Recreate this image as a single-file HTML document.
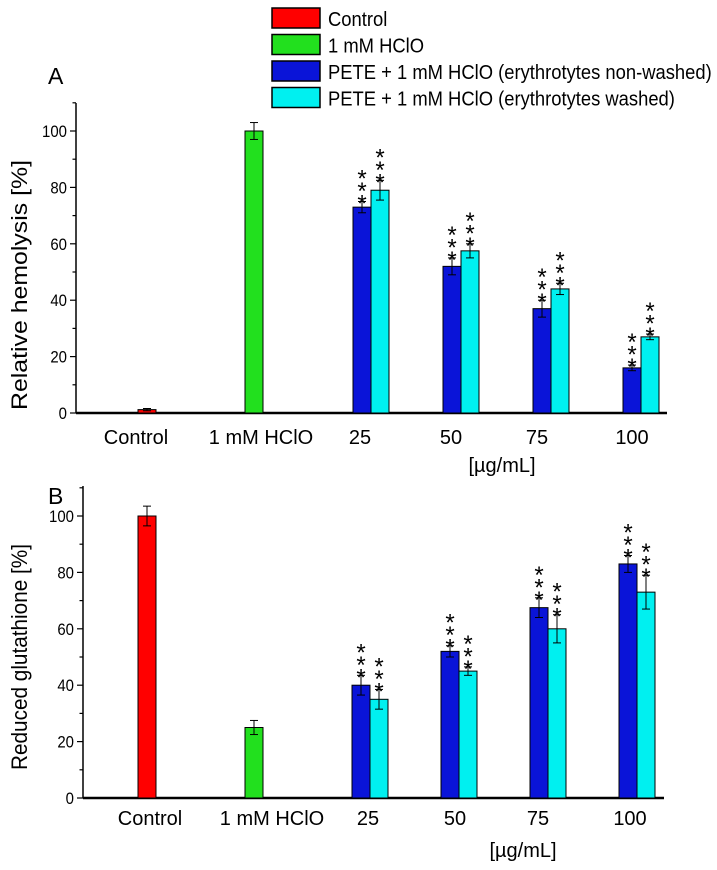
<!DOCTYPE html>
<html><head><meta charset="utf-8"><style>
body{margin:0;background:#fff}
svg{display:block;font-family:"Liberation Sans",sans-serif}
</style></head><body>
<svg id="c" width="717" height="870" viewBox="0 0 717 870"></svg>
<script>
const categories=["Control","1 mM HClO","25","50","75","100"];
const yTicks=[0,20,40,60,80,100];
const aControl=[1.2],aControlErr=[0.4];
const aHclo=[100],aHcloErr=[3];
const aNonWashed=[73,52,37,16],aNonWashedErr=[2,3,3,1];
const aWashed=[79,57.5,44,27],aWashedErr=[3.5,2.5,2,1];
const bControl=[100],bControlErr=[3.5];
const bHclo=[25],bHcloErr=[2.5];
const bNonWashed=[40,52,67.5,83],bNonWashedErr=[3.5,2,3.5,3];
const bWashed=[35,45,60,73],bWashedErr=[3.5,1.5,5,6];
const legendLabels=["Control","1 mM HClO","PETE + 1 mM HClO (erythrotytes non-washed)","PETE + 1 mM HClO (erythrotytes washed)"];
const colors=["#ff0000","#22e01e","#0a14d8","#00f0f0"];
const svg=document.getElementById('c');
const NS="http://www.w3.org/2000/svg";
function mk(tag,attrs,parent){const e=document.createElementNS(NS,tag);for(const k in attrs)e.setAttribute(k,attrs[k]);(parent||svg).appendChild(e);return e;}
// legend
legendLabels.forEach((t,i)=>{
  const y=8+i*26.5;
  const r=mk('rect',{x:272,y:y,width:48,height:20,fill:colors[i],stroke:'#000','stroke-width':1.5});
  
  
  const tx=mk('text',{x:0,y:0,'font-size':20,transform:`translate(328,${y+18}) scale(0.92,1)`});
  tx.textContent=t;
  
  
});
function panel(p){
  const g=mk('g',{});
  
  
  const y=v=>p.y0-v*p.k;
  const L=mk('text',{x:48,y:p.letterY,'font-size':23},g);L.textContent=p.id;
  
  mk('line',{x1:p.ax,y1:p.top,x2:p.ax,y2:p.y0,stroke:'#000','stroke-width':1.5},g);
  for(let v=0;v<=110;v+=10){const maj=v%20===0;mk('line',{x1:p.ax-(maj?6:3.5),y1:y(v),x2:p.ax,y2:y(v),stroke:'#000','stroke-width':1.2},g);}
  yTicks.forEach(v=>{const t=mk('text',{x:0,y:0,'font-size':17,'text-anchor':'end',transform:`translate(${p.ax-9},${y(v)+6}) scale(0.88,1)`},g);t.textContent=v;
    });
  const yt=mk('text',{x:0,y:0,'font-size':22,'text-anchor':'middle',textLength:p.titleLen,lengthAdjust:'spacingAndGlyphs',transform:`translate(${p.titleX},${p.titleY}) rotate(-90)`},g);
  yt.textContent=p.title;
  mk('line',{x1:p.ax,y1:p.y0,x2:p.xEnd,y2:p.y0,stroke:'#000','stroke-width':2.5},g);
  categories.forEach((c,i)=>{const t=mk('text',{x:p.labX[i],y:p.labY,'font-size':20,'text-anchor':'middle'},g);t.textContent=c;
    });
  const u=mk('text',{x:p.unitX,y:p.unitY,'font-size':20,'text-anchor':'middle'},g);u.textContent='[µg/mL]';
  
  const W=18;
  function bar(cx,v,e,col,name,stars){
    const r=mk('rect',{x:cx-W/2,y:y(v),width:W,height:p.y0-y(v),fill:col,stroke:'#000','stroke-width':1},g);
    
    mk('line',{x1:cx,y1:y(v+e),x2:cx,y2:y(v-e),stroke:'#000','stroke-width':1},g);
    mk('line',{x1:cx-4,y1:y(v+e),x2:cx+4,y2:y(v+e),stroke:'#000','stroke-width':1},g);
    mk('line',{x1:cx-4,y1:y(v-e),x2:cx+4,y2:y(v-e),stroke:'#000','stroke-width':1},g);
    if(stars){const top=y(v+e)-2;
      for(let s=0;s<3;s++){const t=mk('text',{x:cx,y:top-s*12.5+12,'font-size':24,'text-anchor':'middle'},g);t.textContent='*';
        }}
  }
  bar(p.cc,p.ctrl[0],p.ctrlE[0],colors[0],'bar-control',false);
  bar(p.hc,p.hclo[0],p.hcloE[0],colors[1],'bar-hclo',false);
  p.nw.forEach((v,i)=>{const c=p.g0+i*p.gs;
    bar(c-W/2,v,p.nwE[i],colors[2],'bar-nonwashed-'+categories[i+2],true);
    bar(c+W/2,p.w[i],p.wE[i],colors[3],'bar-washed-'+categories[i+2],true);});
}
panel({id:'A',y0:413,k:2.82,top:103,ax:76,xEnd:667,titleX:27,titleY:285,titleLen:250,title:'Relative hemolysis [%]',letterY:84,
  labX:[136,261,360,451,537,632],labY:444,unitX:502,unitY:472,cc:147,hc:254,g0:371,gs:90,
  ctrl:aControl,ctrlE:aControlErr,hclo:aHclo,hcloE:aHcloErr,nw:aNonWashed,nwE:aNonWashedErr,w:aWashed,wE:aWashedErr});
panel({id:'B',y0:798,k:2.82,top:486,ax:83,xEnd:664,titleX:27,titleY:657,titleLen:226,title:'Reduced glutathione [%]',letterY:504,
  labX:[150,272,368,455,538,630],labY:825,unitX:523,unitY:857,cc:147,hc:254,g0:370,gs:89,
  ctrl:bControl,ctrlE:bControlErr,hclo:bHclo,hcloE:bHcloErr,nw:bNonWashed,nwE:bNonWashedErr,w:bWashed,wE:bWashedErr});
</script>
</body></html>
